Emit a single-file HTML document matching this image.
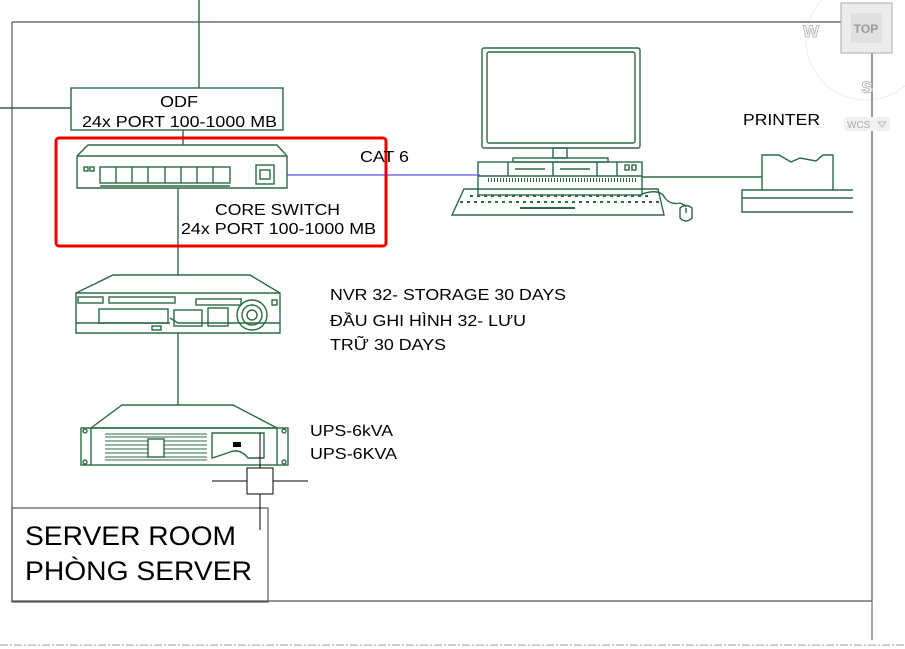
<!DOCTYPE html>
<html><head><meta charset="utf-8"><style>
html,body{margin:0;padding:0;background:#fff;}
svg{display:block;}
text{font-family:"Liberation Sans",Arial,sans-serif;fill:#000;}
</style></head><body>
<svg width="905" height="649" viewBox="0 0 905 649" xmlns="http://www.w3.org/2000/svg">
<circle cx="866" cy="40" r="60" fill="none" stroke="#f2f2f2" stroke-width="1.5"/>
<polyline points="12,22 841,22" fill="none" stroke="#555" stroke-width="1.2"/>
<polyline points="872,53 872,601 12,601 12,22" fill="none" stroke="#555" stroke-width="1.2"/>
<line x1="872" y1="601" x2="872" y2="640" stroke="#555" stroke-width="1"/>
<line x1="0" y1="645" x2="905" y2="645" stroke="#bbb" stroke-width="1.5" stroke-dasharray="8,2,2,2"/>
<rect x="841" y="3" width="51" height="50" fill="#ececec" stroke="#aaa"/>
<rect x="851" y="13" width="31" height="30" fill="#e0e0e0"/>
<text x="866" y="33" font-size="12" font-weight="bold" text-anchor="middle" style="fill:#999">TOP</text>
<text x="811" y="37" font-size="17" font-weight="bold" text-anchor="middle" style="fill:#fff;stroke:#bbb;stroke-width:1">W</text>
<text x="867" y="93" font-size="17" font-weight="bold" text-anchor="middle" style="fill:#fff;stroke:#bbb;stroke-width:1">S</text>
<rect x="844" y="117" width="46" height="14" rx="3" fill="#f1f1f1"/>
<text x="847" y="128" font-size="10" style="fill:#aaa">WCS</text>
<path d="M878,122 L886,122 L882,127 Z" fill="none" stroke="#bbb"/>

<g stroke="#2b6a45" stroke-width="1.4" fill="none">
<line x1="199" y1="0" x2="199" y2="88"/>
<line x1="0" y1="108" x2="71" y2="108"/>
<rect x="71" y="88" width="212" height="42"/>
<line x1="183" y1="130" x2="183" y2="145"/>
<polygon points="77,156 88,145 277,145 287,156 287,188 77,188"/>
<line x1="77" y1="156" x2="287" y2="156"/>
<rect x="84" y="167" width="4" height="4"/><rect x="90" y="167" width="4" height="4"/>
<rect x="100" y="167" width="130" height="16"/>
<line x1="116" y1="167" x2="116" y2="183"/><line x1="132" y1="167" x2="132" y2="183"/><line x1="148" y1="167" x2="148" y2="183"/><line x1="165" y1="167" x2="165" y2="183"/><line x1="181" y1="167" x2="181" y2="183"/><line x1="197" y1="167" x2="197" y2="183"/><line x1="213" y1="167" x2="213" y2="183"/>
<line x1="100" y1="186" x2="230" y2="186"/>
<rect x="256" y="165" width="18" height="19"/><rect x="260" y="170" width="10" height="9"/>
<line x1="178" y1="188" x2="178" y2="275"/>
<polygon points="76,293 113,275 250,275 280,293 280,333 76,333"/>
<line x1="76" y1="293" x2="280" y2="293"/>
<line x1="76" y1="323" x2="170" y2="323"/>
<polyline points="170,318 178,323 280,323" />
<rect x="78" y="297" width="25" height="6"/>
<rect x="109" y="297" width="66" height="6"/>
<rect x="99" y="309" width="69" height="14"/>
<rect x="196" y="299" width="45" height="6"/>
<rect x="174" y="310" width="28" height="16"/>
<rect x="208" y="308" width="20" height="18"/>
<circle cx="252" cy="315" r="15"/><circle cx="252" cy="315" r="10"/><circle cx="252" cy="315" r="5"/>
<rect x="272" y="300" width="5" height="5"/>
<rect x="152" y="326" width="9" height="4"/>
<line x1="178" y1="333" x2="178" y2="405"/>
<polygon points="91,428 122,405 233,405 277,428"/>
<rect x="81" y="428" width="207" height="37"/>
<line x1="91" y1="428" x2="91" y2="465"/><line x1="277" y1="428" x2="277" y2="465"/>
<circle cx="85" cy="431" r="2"/><circle cx="85" cy="462" r="2"/><circle cx="284" cy="431" r="2"/><circle cx="284" cy="462" r="2"/>
<g stroke-width="1.1">
<line x1="105" y1="434" x2="207" y2="434"/><line x1="105" y1="437" x2="207" y2="437"/><line x1="105" y1="441" x2="207" y2="441"/><line x1="105" y1="445" x2="207" y2="445"/><line x1="105" y1="449" x2="207" y2="449"/><line x1="105" y1="453" x2="207" y2="453"/><line x1="105" y1="457" x2="207" y2="457"/><line x1="105" y1="460" x2="207" y2="460"/>
</g>
<rect x="148" y="439" width="16" height="18" fill="#fff"/>
<path d="M212,433 H264 V458 H248 Q240,448 230,452 Q222,455 212,458 Z"/>
<rect x="482" y="48" width="158" height="100" rx="2"/>
<rect x="487" y="52" width="148" height="91" rx="2"/>
<rect x="553" y="148" width="14" height="10"/>
<rect x="513" y="158" width="95" height="4"/>
<rect x="478" y="162" width="164" height="33"/>
<line x1="478" y1="176" x2="642" y2="176"/>
<line x1="508" y1="162" x2="508" y2="176"/><line x1="553" y1="162" x2="553" y2="176"/><line x1="597" y1="162" x2="597" y2="176"/><line x1="617" y1="162" x2="617" y2="176"/>
<line x1="515" y1="169" x2="545" y2="169"/><line x1="560" y1="169" x2="590" y2="169"/>
<rect x="625" y="165" width="4" height="5"/><rect x="632" y="165" width="4" height="5"/>
<line x1="488" y1="180" x2="638" y2="180" stroke-dasharray="1,2" stroke-width="4" />
<polygon points="464,189 658,189 664,215 452,215"/>
<line x1="460" y1="202" x2="660" y2="202" stroke-dasharray="3,4" stroke-width="2"/>
<line x1="470" y1="196" x2="650" y2="196" stroke-dasharray="3,4" stroke-width="2"/>
<line x1="520" y1="208" x2="575" y2="208" stroke-width="2"/>
<path d="M642,194 Q660,188 665,198 Q670,205 680,203 Q685,205 686,207"/>
<path d="M680,208 Q686,203 692,208 V218 Q686,224 680,218 Z"/>
<line x1="686" y1="208" x2="686" y2="213"/>
<line x1="642" y1="177" x2="762" y2="177"/>
<polyline points="762,190 762,155 779,155 791,162 800,158 816,161 823,155 833,155 833,190"/>
<polyline points="853,190 742,190 742,212 853,212"/>
<line x1="742" y1="198" x2="853" y2="198"/>
</g>
<line x1="287" y1="175" x2="480" y2="175" stroke="#5555ee" stroke-width="1.3"/>
<g stroke="#000" stroke-width="1" fill="none">
<line x1="260" y1="433" x2="260" y2="530"/>
<rect x="247" y="468" width="26" height="26" fill="#fff"/>
<line x1="212" y1="481" x2="247" y2="481"/><line x1="273" y1="481" x2="308" y2="481"/>
</g>
<rect x="233" y="442" width="8" height="5" fill="#000"/>
<rect x="56" y="138" width="330" height="108" rx="3" fill="none" stroke="#e00" stroke-width="3"/>
<rect x="12" y="508" width="256" height="94" fill="none" stroke="#555" stroke-width="1.2"/>
<line x1="260" y1="494" x2="260" y2="530" stroke="#000"/>
<g font-size="16" lengthAdjust="spacingAndGlyphs">
<text x="160" y="107" textLength="38" lengthAdjust="spacingAndGlyphs">ODF</text>
<text x="82" y="127" textLength="195" lengthAdjust="spacingAndGlyphs">24x PORT 100-1000 MB</text>
<text x="360" y="162" textLength="49" lengthAdjust="spacingAndGlyphs">CAT 6</text>
<text x="215" y="215" textLength="125" lengthAdjust="spacingAndGlyphs">CORE SWITCH</text>
<text x="181" y="234" textLength="195" lengthAdjust="spacingAndGlyphs">24x PORT 100-1000 MB</text>
<text x="330" y="300" textLength="236" lengthAdjust="spacingAndGlyphs">NVR 32- STORAGE 30 DAYS</text>
<text x="330" y="326" textLength="196" lengthAdjust="spacingAndGlyphs">ĐẦU GHI HÌNH 32- LƯU</text>
<text x="330" y="350" textLength="116" lengthAdjust="spacingAndGlyphs">TRỮ 30 DAYS</text>
<text x="310" y="436" textLength="83" lengthAdjust="spacingAndGlyphs">UPS-6kVA</text>
<text x="310" y="459" textLength="87" lengthAdjust="spacingAndGlyphs">UPS-6KVA</text>
<text x="743" y="125" textLength="77" lengthAdjust="spacingAndGlyphs">PRINTER</text>
</g>
<text x="25" y="545" font-size="27" textLength="211" lengthAdjust="spacingAndGlyphs">SERVER ROOM</text>
<text x="25" y="580" font-size="27" textLength="227" lengthAdjust="spacingAndGlyphs">PHÒNG SERVER</text>
</svg>
</body></html>
